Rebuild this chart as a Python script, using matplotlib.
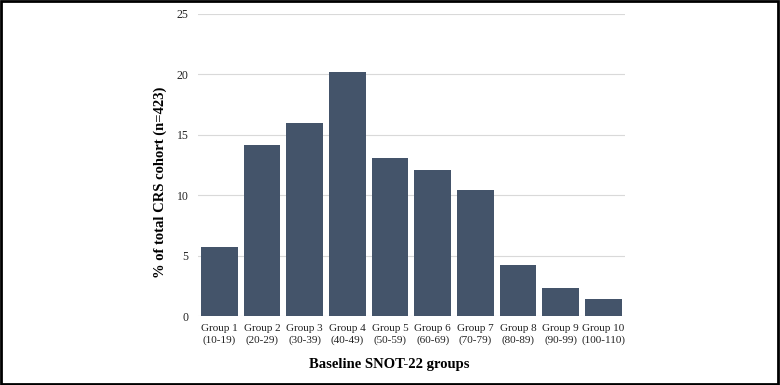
import numpy as np
import matplotlib
matplotlib.use("Agg")
from matplotlib import pyplot as plt

groups = ["Group 1\n(10-19)", "Group 2\n(20-29)", "Group 3\n(30-39)", "Group 4\n(40-49)",
          "Group 5\n(50-59)", "Group 6\n(60-69)", "Group 7\n(70-79)", "Group 8\n(80-89)",
          "Group 9\n(90-99)", "Group 10\n(100-110)"]
percent = [5.7, 14.15, 16.0, 20.2, 13.1, 12.05, 10.4, 4.25, 2.35, 1.4]
yticks = [0, 5, 10, 15, 20, 25]

plt.rcParams["font.family"] = ["Liberation Serif", "DejaVu Serif"]

fig = plt.figure(figsize=(7.8, 3.85), dpi=100)
ax = fig.add_axes([0.254, 0.179, 0.547, 0.785])

x = np.arange(len(groups))
ax.bar(x, percent, width=0.86, color="#44546a", zorder=3)

ax.set_xlim(-0.5, len(groups) - 0.5)
ax.set_ylim(0, 25)
ax.set_yticks(yticks)
ax.set_xticks(x)
ax.set_xticklabels(groups, fontsize=8, color="#222222", linespacing=1.35)
ax.tick_params(axis="y", labelsize=8.5, colors="#222222", length=0, pad=7)
ax.tick_params(axis="x", length=0, pad=5.5)
ax.grid(axis="y", color="#d9d9d9", linewidth=0.8, zorder=0)
for s in ax.spines.values():
    s.set_visible(False)

ax.set_ylabel("% of total CRS cohort (n=423)", fontsize=10.5, fontweight="bold")
ax.yaxis.set_label_coords(-0.073, 0.444)
ax.set_xlabel("Baseline SNOT-22 groups", fontsize=10.5, fontweight="bold")
ax.xaxis.set_label_coords(0.447, -0.139)

# black frame round the whole picture
fig.patches.append(plt.Rectangle((0.001, 0.002), 0.997, 0.995, transform=fig.transFigure,
                                 fill=False, edgecolor="black", linewidth=2))

fig.savefig("out.png", dpi=100)
